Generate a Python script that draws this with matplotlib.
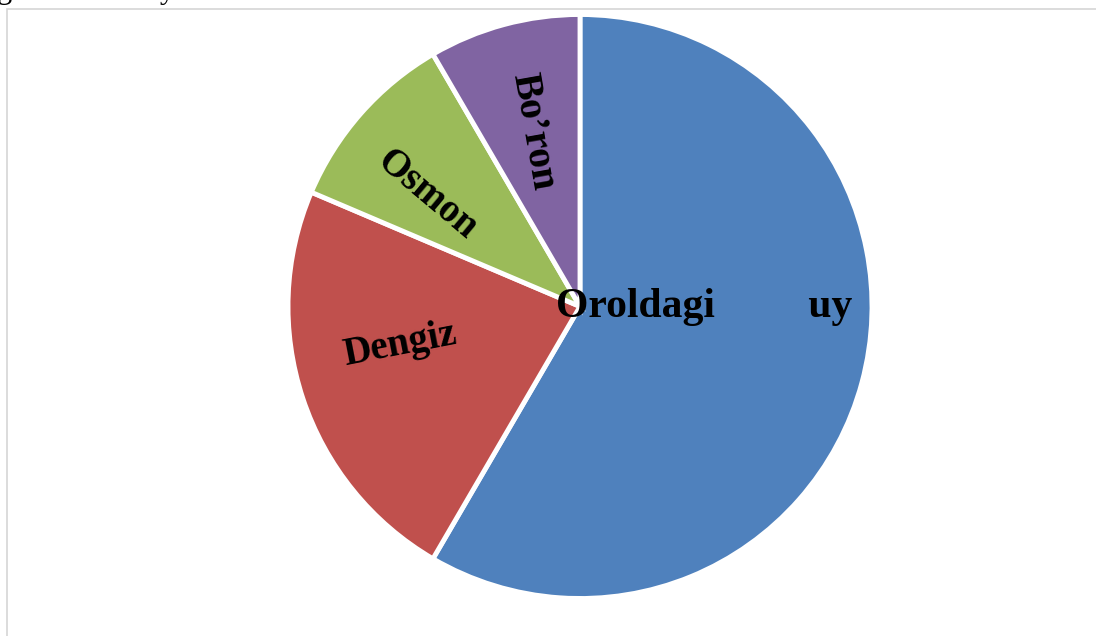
import matplotlib.pyplot as plt
from matplotlib.patches import Rectangle
import numpy as np

# data
labels = ["Oroldagi uy", "Dengiz", "Osmon", "Bo’ron"]
values = [58.4, 23.0, 10.2, 8.4]
colors = ["#4F81BD", "#C0504D", "#9BBB59", "#8064A2"]

W, H = 1096, 636
fig = plt.figure(figsize=(W / 100, H / 100), dpi=100)
fig.patch.set_facecolor("white")
ax = fig.add_axes([0, 0, 1, 1])

# chart frame (only top/left edges visible in the crop)
ax.add_patch(Rectangle((6.5, -20), W + 40, H - 9.0 + 20, facecolor="white",
                       edgecolor="#d6d6d6", linewidth=1.2, zorder=0))

cx, cy, R = 580, H - 306.5, 292
wedges, _ = ax.pie(values, colors=colors, startangle=90, counterclock=False,
                   center=(cx, cy), radius=R, frame=True,
                   wedgeprops=dict(edgecolor="white", linewidth=3.5))
ax.set_xlim(0, W)
ax.set_ylim(0, H)
ax.set_aspect("equal")
ax.axis("off")

# label layout: (text, angle deg, radius fraction, rotation, ha, size)
font = dict(family="Liberation Serif", fontweight="bold", color="black")
lab_layout = [
    ("Oroldagi         uy", 0.0, 0.0, 0, "left", 30),
    ("Dengiz", 192, 0.63, 11, "center", 28),
    ("Osmon", 144, 0.65, -40, "center", 28),
    ("Bo’ron", 105, 0.62, -80, "center", 28.5),
]
for (txt, ang, rf, rot, ha, fs) in lab_layout:
    a = np.deg2rad(ang)
    x = cx + rf * R * np.cos(a)
    y = cy + rf * R * np.sin(a)
    if ha == "left":
        x -= 24
    ax.text(x, y, txt, ha=ha, va="center", rotation=rot,
            rotation_mode="anchor", fontsize=fs, **font)

# cut-off text line above the chart (only descenders show)
fig.text(-0.003, 1.003, "g", fontsize=22, family="Liberation Serif",
         va="baseline", ha="left")
fig.text(0.146, 1.003, "y", fontsize=22, family="Liberation Serif",
         va="baseline", ha="left")

plt.savefig("out.png", dpi=100, facecolor="white")
plt.close()
